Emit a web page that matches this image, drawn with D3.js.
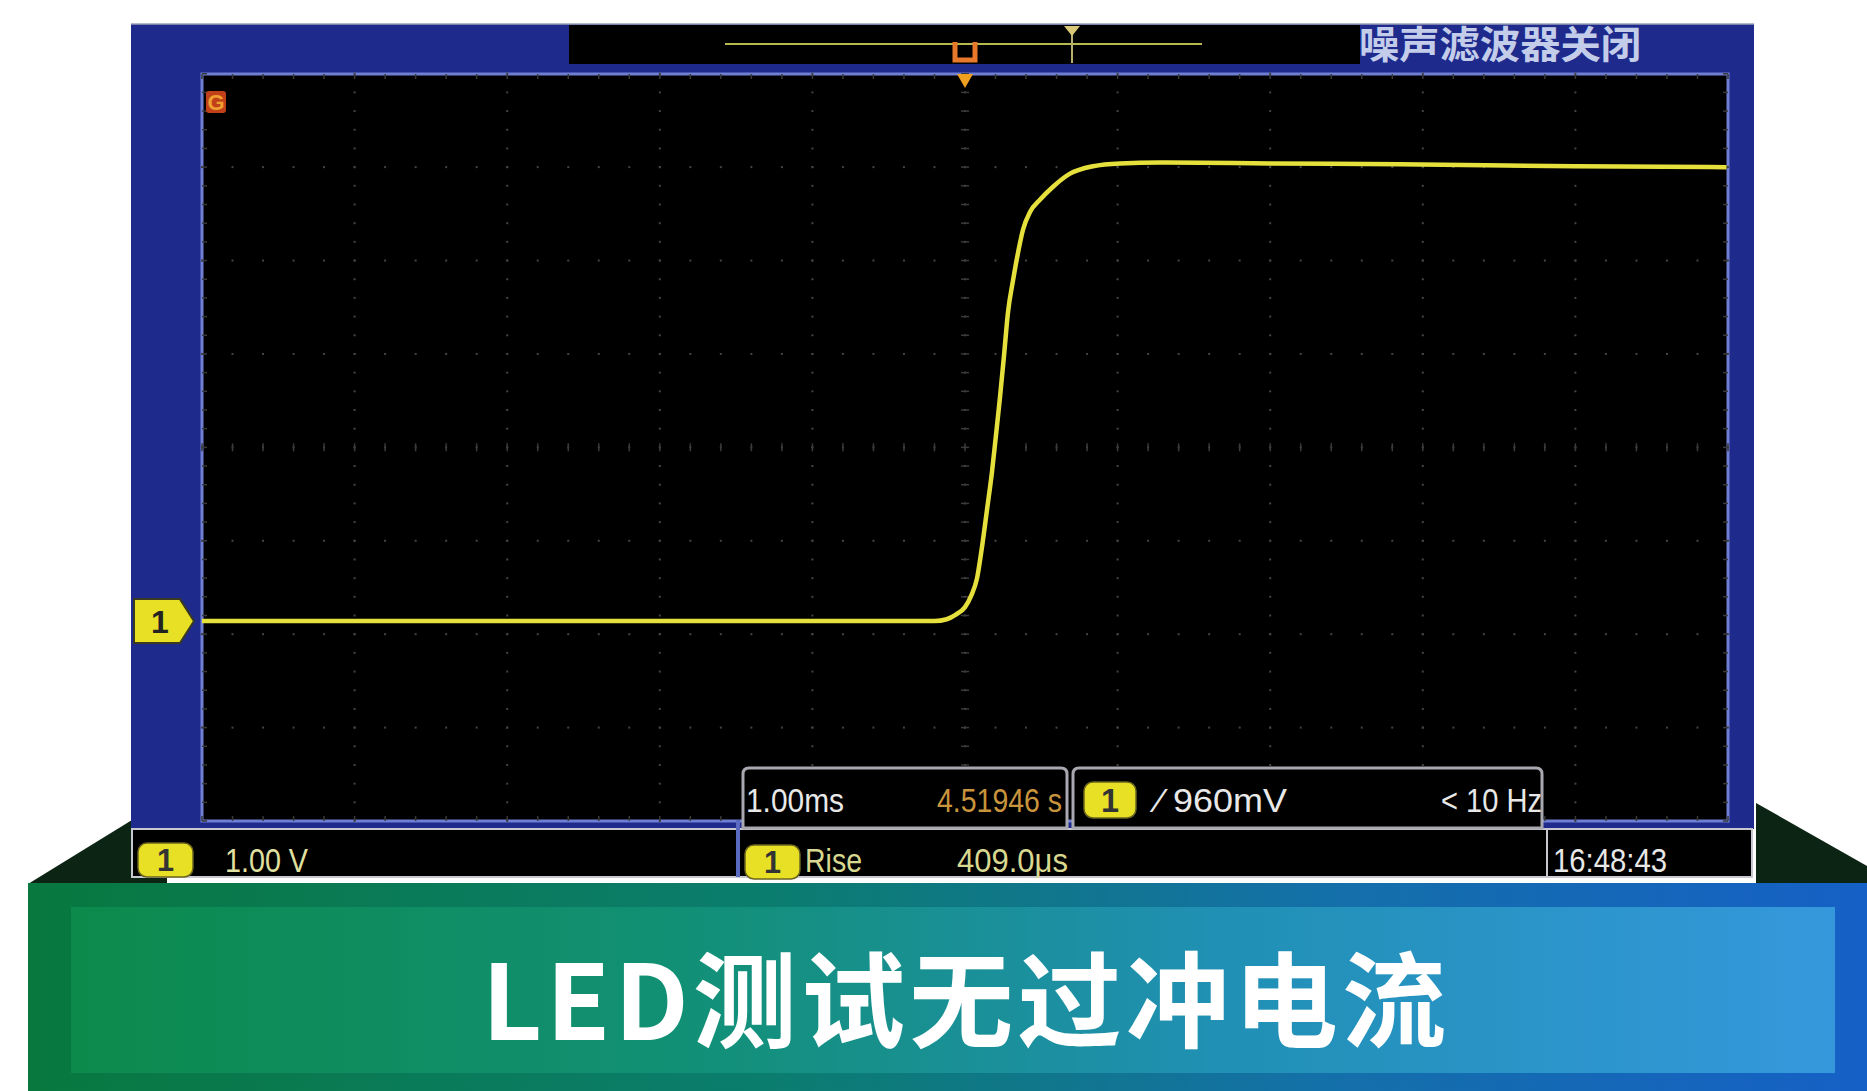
<!DOCTYPE html>
<html><head><meta charset="utf-8">
<script src="https://cdn.jsdelivr.net/npm/d3@7"></script>
<style>html,body{margin:0;padding:0;background:#fff;overflow:hidden}svg{display:block}</style>
</head><body><svg id="c" width="1867" height="1091"></svg>
<script>
// ---- data ----
const timeMs = [-5.0, -3.0, -1.0, -0.4, -0.2, -0.12, -0.06, 0.0, 0.04, 0.079, 0.111, 0.144, 0.177, 0.203, 0.229, 0.256, 0.282, 0.315, 0.347, 0.380, 0.426, 0.491, 0.577, 0.688, 0.839, 1.016, 1.278, 2.0, 2.85, 4.0, 4.99];
const volts  = [0.0, 0.0, 0.0, 0.0, 0.0, 0.02, 0.07, 0.15, 0.27, 0.46, 0.79, 1.19, 1.60, 1.99, 2.39, 2.85, 3.31, 3.65, 3.94, 4.19, 4.38, 4.51, 4.65, 4.79, 4.87, 4.90, 4.91, 4.90, 4.89, 4.87, 4.86];
const timeDivs = [-5, -4, -3, -2, -1, 0, 1, 2, 3, 4, 5];          // 1.00 ms/div
const voltDivs = [-2.14, -1.14, -0.14, 0.86, 1.86, 2.86, 3.86, 4.86, 5.86]; // 1.00 V/div
const timebaseLabel = "1.00ms";
const timeLabel = "4.51946 s";
const trigLabel = "\u2044 960mV";
const freqLabel = "< 10 Hz";
const scaleLabel = "1.00 V";
const measName = "Rise";
const measValue = "409.0\u03bcs";
const clockLabel = "16:48:43";
const noiseLabel = "噪声滤波器关闭";
const titleLabel = "LED测试无过冲电流";

const svg = d3.select("#c");
const defs = svg.append("defs");

// ---- scales ----
const x = d3.scaleLinear().domain([-5, 5]).range([202, 1728]);
const y = d3.scaleLinear().domain([-2.14, 5.857]).range([821, 74]);

// ---- banner background ----
const g1 = defs.append("linearGradient").attr("id","gBand");
[["0%","#08783f"],["40%","#0b7d6e"],["70%","#1470a8"],["100%","#1560c6"]].forEach(s=>g1.append("stop").attr("offset",s[0]).attr("stop-color",s[1]));
const g2 = defs.append("linearGradient").attr("id","gInner");
[["0%","#0c8a4c"],["35%","#129076"],["65%","#2090b4"],["100%","#3598dc"]].forEach(s=>g2.append("stop").attr("offset",s[0]).attr("stop-color",s[1]));

svg.append("polygon").attr("points","28,884 132,820 132,877 167,877 167,884").attr("fill","#0c2414");
svg.append("polygon").attr("points","1756,803 1867,866 1867,884 1756,884").attr("fill","#0c2414");
svg.append("rect").attr("x",28).attr("y",883).attr("width",1839).attr("height",208).attr("fill","url(#gBand)");
svg.append("rect").attr("x",71).attr("y",907).attr("width",1764).attr("height",166).attr("fill","url(#gInner)");
svg.append("text").attr("x",482).attr("y",1040)
  .attr("textLength",964).attr("lengthAdjust","spacing")
  .attr("font-family","'Noto Sans CJK SC','Noto Sans',sans-serif").attr("font-weight",700)
  .attr("font-size",104).attr("fill","#ffffff").text(titleLabel);

// ---- oscilloscope frame ----
svg.append("rect").attr("x",131).attr("y",24).attr("width",1623).attr("height",805).attr("fill","#1e2b8c");
svg.append("line").attr("x1",131).attr("x2",1754).attr("y1",24).attr("y2",24).attr("stroke","#9aa0b8").attr("stroke-width",1.5);
svg.append("rect").attr("x",569).attr("y",25).attr("width",791).attr("height",39).attr("fill","#000");
svg.append("text").attr("x",1359).attr("y",58).attr("textLength",282).attr("lengthAdjust","spacingAndGlyphs")
  .attr("font-family","'Noto Sans CJK SC',sans-serif").attr("font-size",38).attr("font-weight",700)
  .attr("fill","#c3cdea").text(noiseLabel);

// plot area
svg.append("rect").attr("x",x(-5)).attr("y",y(5.857)).attr("width",x(5)-x(-5)).attr("height",y(-2.14)-y(5.857))
  .attr("fill","#000").attr("stroke","#6f7fd4").attr("stroke-width",3);

// grid dots
const grid = svg.append("g").attr("fill","#444");
const vSteps = d3.range(0, 41).map(k => -2.14 + k*0.2);
const tSteps = d3.range(0, 51).map(k => -5 + k*0.2);
timeDivs.slice(1,-1).forEach(t => {
  grid.selectAll(null).data(vSteps).join("rect")
    .attr("x", x(t)-1).attr("y", d => y(d)-1).attr("width",2).attr("height",2);
});
voltDivs.slice(1,-1).forEach(v => {
  grid.selectAll(null).data(tSteps).join("rect")
    .attr("x", d => x(d)-1).attr("y", y(v)-1).attr("width",2).attr("height",2);
});
// centre line ticks
const ticks = svg.append("g").attr("stroke","#3a3a3a").attr("stroke-width",1.5);
ticks.selectAll(null).data(tSteps).join("line")
  .attr("x1",d=>x(d)).attr("x2",d=>x(d)).attr("y1",y(1.86)-4).attr("y2",y(1.86)+4);
ticks.selectAll(null).data(vSteps).join("line")
  .attr("y1",d=>y(d)).attr("y2",d=>y(d)).attr("x1",x(0)-4).attr("x2",x(0)+4);
// border ticks
ticks.selectAll(null).data(tSteps).join("line")
  .attr("x1",d=>x(d)).attr("x2",d=>x(d)).attr("y1",y(5.857)).attr("y2",y(5.857)+5);
ticks.selectAll(null).data(tSteps).join("line")
  .attr("x1",d=>x(d)).attr("x2",d=>x(d)).attr("y1",y(-2.14)).attr("y2",y(-2.14)-5);
ticks.selectAll(null).data(vSteps).join("line")
  .attr("y1",d=>y(d)).attr("y2",d=>y(d)).attr("x1",x(-5)).attr("x2",x(-5)+5);
ticks.selectAll(null).data(vSteps).join("line")
  .attr("y1",d=>y(d)).attr("y2",d=>y(d)).attr("x1",x(5)).attr("x2",x(5)-5);

// trace
const pts = timeMs.map((t,i)=>[t, volts[i]]);
svg.append("path").datum(pts)
  .attr("d", d3.line().x(d=>x(d[0])).y(d=>y(d[1])).curve(d3.curveMonotoneX))
  .attr("fill","none").attr("stroke","#e6e03c").attr("stroke-width",4.5).attr("stroke-linejoin","round");

// orange icon top-left
svg.append("rect").attr("x",206).attr("y",91).attr("width",20).attr("height",22).attr("rx",3).attr("fill","#c0401a");
svg.append("text").attr("x",216).attr("y",110).attr("text-anchor","middle").attr("font-family","Liberation Sans Narrow, Liberation Sans, sans-serif")
  .attr("font-weight",700).attr("font-size",22).attr("fill","#f0a030").text("G");

// top bar record line and markers
svg.append("line").attr("x1",725).attr("x2",1202).attr("y1",44).attr("y2",44).attr("stroke","#b8b850").attr("stroke-width",2);
svg.append("line").attr("x1",1072).attr("x2",1072).attr("y1",28).attr("y2",63).attr("stroke","#b8b070").attr("stroke-width",2);
svg.append("path").attr("d","M1064,26 L1080,26 L1072,36 Z").attr("fill","#d8c878");
svg.append("path").attr("d",`M${x(0)-10},42 L${x(0)-10},60 L${x(0)+10},60 L${x(0)+10},42`).attr("fill","none").attr("stroke","#e8782a").attr("stroke-width",5);
svg.append("path").attr("d",`M${x(0)-8},74 L${x(0)+8},74 L${x(0)},88 Z`).attr("fill","#f0a020");

// ground marker
const gy = y(0);
svg.append("path").attr("d",`M134,${gy-22} L180,${gy-22} L194,${gy} L180,${gy+22} L134,${gy+22} Z`)
  .attr("fill","#e8e024").attr("stroke","#3a3a20").attr("stroke-width",2);
svg.append("text").attr("x",160).attr("y",gy+12).attr("text-anchor","middle").attr("font-family","Liberation Sans Narrow, Liberation Sans, sans-serif")
  .attr("font-weight",700).attr("font-size",32).attr("fill","#222").text("1");

// ---- readouts ----
const font = "'Liberation Sans Narrow','Liberation Sans',sans-serif";
function badge(bx, by, w, h){
  svg.append("rect").attr("x",bx).attr("y",by).attr("width",w).attr("height",h).attr("rx",9)
    .attr("fill","#e8e024").attr("stroke","#6a6420").attr("stroke-width",1.5);
  svg.append("text").attr("x",bx+w/2).attr("y",by+h*0.82).attr("text-anchor","middle").attr("font-family",font)
    .attr("font-weight",700).attr("font-size",h*0.9).attr("fill","#333").text("1");
}
function label(tx, ty, w, txt, col, anchor){
  svg.append("text").attr("x",tx).attr("y",ty).attr("textLength",w).attr("lengthAdjust","spacingAndGlyphs")
    .attr("text-anchor",anchor||"start").attr("font-family",font).attr("font-size",33).attr("fill",col).text(txt);
}
// bottom row
svg.append("rect").attr("x",132).attr("y",829).attr("width",1620).attr("height",48).attr("fill","#000").attr("stroke","#c8c8d0").attr("stroke-width",2);
svg.append("line").attr("x1",738).attr("x2",738).attr("y1",820).attr("y2",877).attr("stroke","#5a6ac0").attr("stroke-width",4);
svg.append("line").attr("x1",1547).attr("x2",1547).attr("y1",829).attr("y2",877).attr("stroke","#c8c8d0").attr("stroke-width",2);
// boxes over plot bottom
function box(bx, w){
  svg.append("path").attr("d",`M${bx},828 L${bx},774 Q${bx},768 ${bx+6},768 L${bx+w-6},768 Q${bx+w},768 ${bx+w},774 L${bx+w},828 Z`)
    .attr("fill","#000").attr("stroke","#a8a8b0").attr("stroke-width",3);
}
box(743, 324);
box(1073, 469);

label(746, 812, 98, timebaseLabel, "#e8e8e8");
label(937, 812, 125, timeLabel, "#c8943c");
badge(1084, 782, 52, 36);
label(1157, 812, 130, trigLabel, "#e8e8e8");
label(1441, 812, 101, freqLabel, "#e8e8e8");

badge(138, 843, 55, 34);
label(225, 872, 83, scaleLabel, "#e0e0a0");
badge(745, 845, 55, 34);
label(805, 872, 57, measName, "#d8d890");
label(957, 872, 111, measValue, "#d8d890");
label(1553, 872, 114, clockLabel, "#e8e8e8");
</script></body></html>
